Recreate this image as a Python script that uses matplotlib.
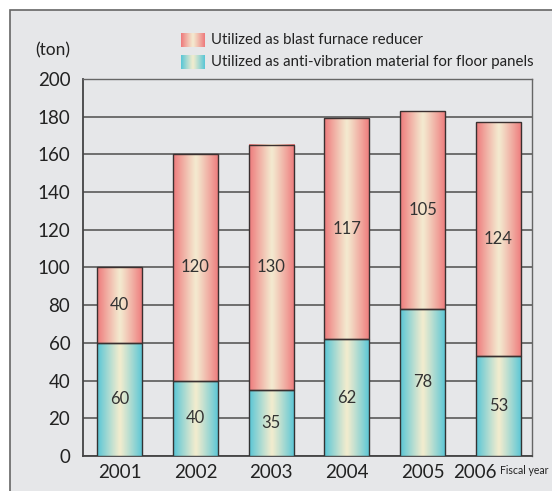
import matplotlib
matplotlib.use("Agg")
import matplotlib.pyplot as plt
import matplotlib.transforms as mtransforms
import numpy as np
from matplotlib.patches import Rectangle

plt.rcParams["font.family"] = ["Lato", "DejaVu Sans"]

years = ["2001", "2002", "2003", "2004", "2005", "2006"]
floor_panels = [60, 40, 35, 62, 78, 53]
blast_furnace = [40, 120, 130, 117, 105, 124]

BG = "#E6E7E9"
RED_EDGE = np.array([238, 122, 124]) / 255
RED_MID = np.array([244, 234, 208]) / 255
CYAN_EDGE = np.array([88, 198, 214]) / 255
CYAN_MID = np.array([242, 236, 206]) / 255


def gradient(edge, mid, n=64):
    t = np.abs(np.linspace(-1, 1, n))
    t = t ** 1.1
    g = mid[None, :] * (1 - t[:, None]) + edge[None, :] * t[:, None]
    return g[None, :, :]


fig = plt.figure(figsize=(5.52, 4.91), dpi=100)
fig.patch.set_facecolor("white")
fig.add_artist(Rectangle((10 / 552, -0.1), 1.2, 1 - 10 / 491 + 0.1,
                         transform=fig.transFigure, facecolor=BG,
                         edgecolor="#666666", linewidth=1.2, zorder=0))

ax = fig.add_axes([0.150, 0.0713, 0.814, 0.768])
ax.set_facecolor(BG)
ax.set_yticks(range(0, 201, 20))
ax.set_xticks(range(len(years)))
ax.set_xticklabels(years)
ax.tick_params(length=0, labelsize=13.5, colors="#222222", pad=6)
ax.tick_params(axis="y", pad=9)
ax.yaxis.grid(True, color="#5a5a5a", linewidth=1.2, zorder=1)
ax.set_axisbelow(True)
for s in ["left", "bottom"]:
    ax.spines[s].set_color("#444444")
    ax.spines[s].set_linewidth(1.3)
for s in ["top", "right"]:
    ax.spines[s].set_color("#666666")
    ax.spines[s].set_linewidth(1.0)

# shift the last year label left to make room for "Fiscal year"
last = ax.get_xticklabels()[-1]
last.set_transform(last.get_transform() +
                   mtransforms.ScaledTranslation(-0.24, 0, fig.dpi_scale_trans))

w = 0.595
red_img = gradient(RED_EDGE, RED_MID)
cyan_img = gradient(CYAN_EDGE, CYAN_MID)
x = np.arange(len(years))
ax.bar(x, floor_panels, w, facecolor="none", edgecolor="#333333",
       linewidth=1.0, zorder=4)
ax.bar(x, blast_furnace, w, bottom=floor_panels, facecolor="none",
       edgecolor="#3a3030", linewidth=1.0, zorder=4)
for xi, lo, hi in zip(x, floor_panels, blast_furnace):
    ax.imshow(cyan_img, extent=(xi - w / 2, xi + w / 2, 0, lo), aspect="auto",
              zorder=3, interpolation="bilinear")
    ax.imshow(red_img, extent=(xi - w / 2, xi + w / 2, lo, lo + hi),
              aspect="auto", zorder=3, interpolation="bilinear")
    ax.text(xi, lo / 2, str(lo), ha="center", va="center", fontsize=12,
            color="#333333", zorder=5)
    ax.text(xi, lo + hi / 2, str(hi), ha="center", va="center", fontsize=12,
            color="#333333", zorder=5)
ax.set_xlim(-0.486, 5.445)
ax.set_ylim(0, 200)

fig.text(35 / 552, 1 - 50 / 491, "(ton)", fontsize=12.5, color="#222222",
         ha="left", va="center")
fig.text(500 / 552, 1 - 471 / 491, "Fiscal year", fontsize=7.6,
         color="#222222", ha="left", va="center")

# legend
for yy, img, label in [(40, red_img, "Utilized as blast furnace reducer"),
                       (62, cyan_img,
                        "Utilized as anti-vibration material for floor panels")]:
    lax = fig.add_axes([181 / 552, 1 - (yy + 7) / 491, 24 / 552, 14 / 491])
    lax.imshow(img, aspect="auto", interpolation="bilinear")
    lax.axis("off")
    fig.text(211 / 552, 1 - yy / 491, label, fontsize=10.8, color="#222222",
             ha="left", va="center")

fig.savefig("out.png", dpi=100, facecolor="white")
